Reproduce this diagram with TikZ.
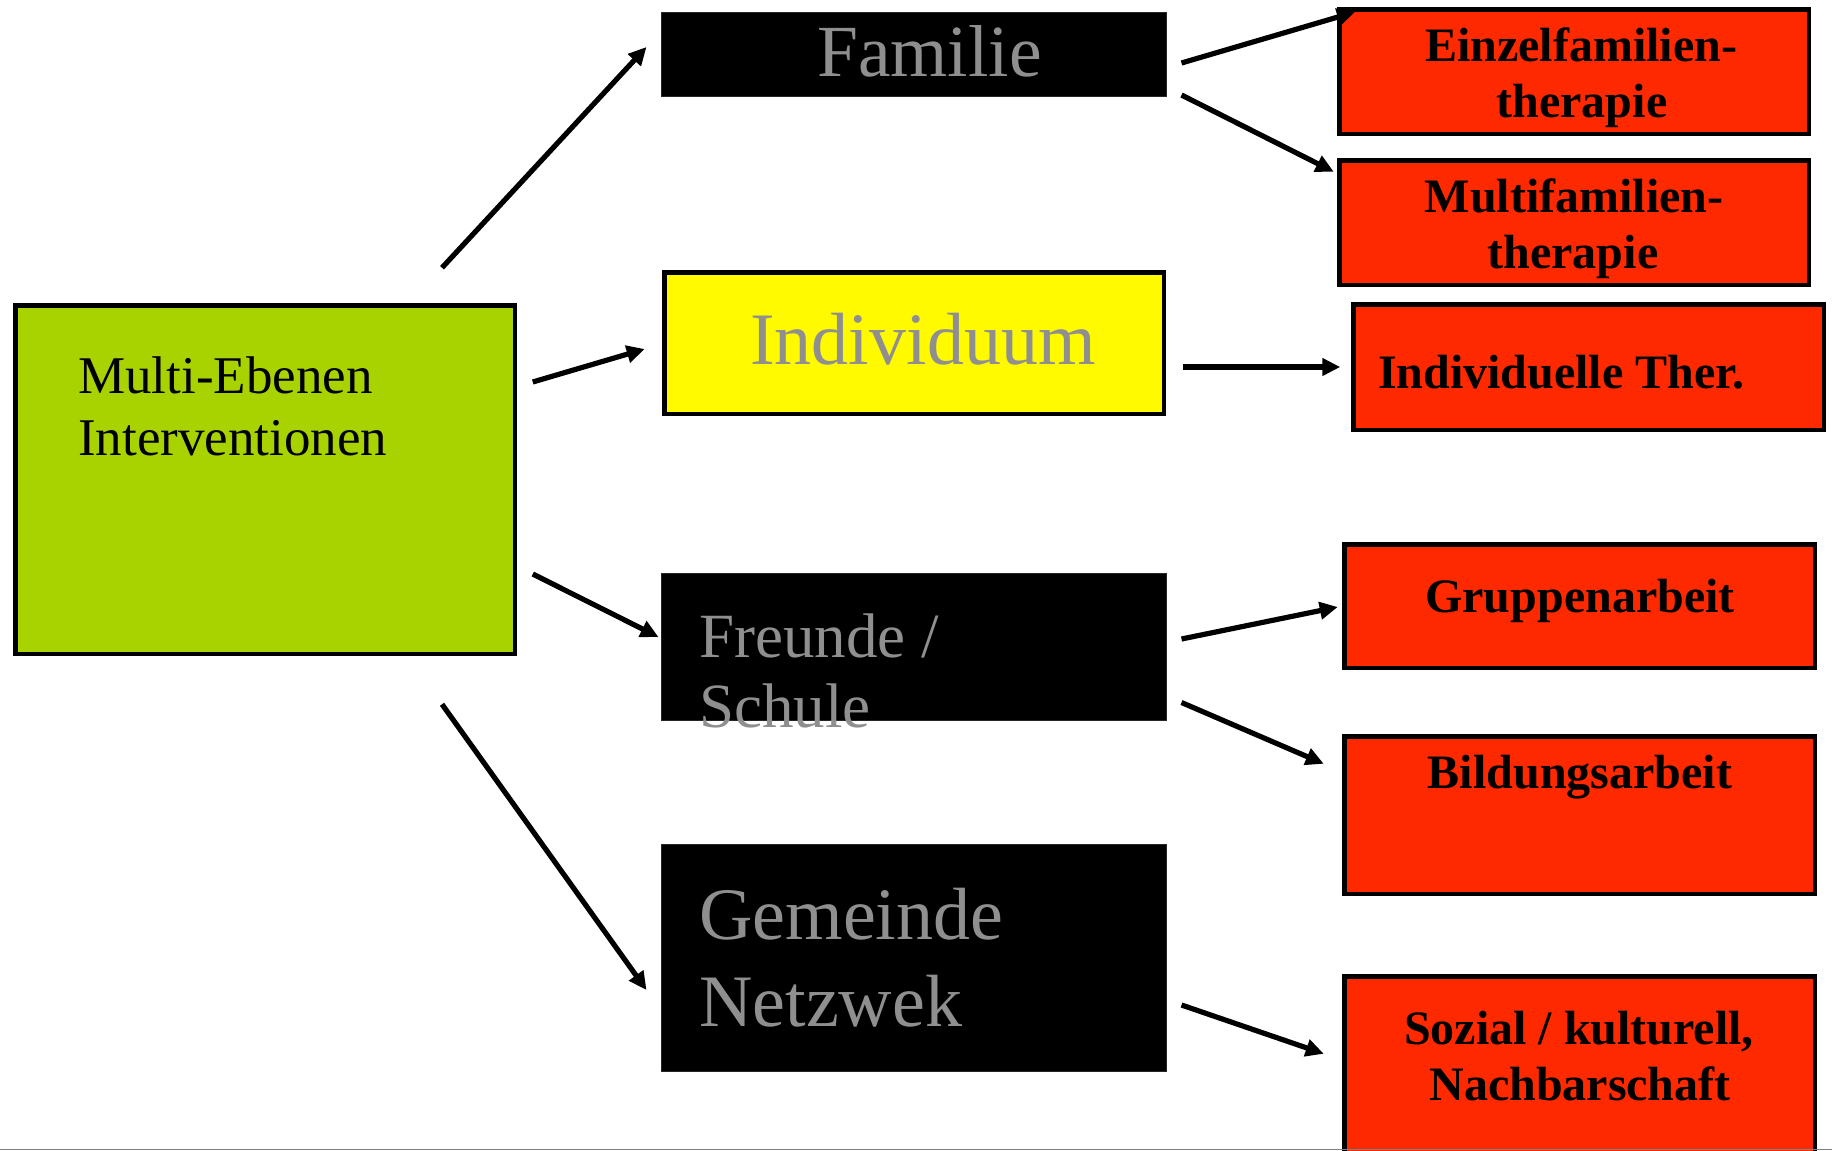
\documentclass[tikz,border=0pt]{standalone}
\usepackage{fontspec}
\setmainfont{Liberation Serif}
\usetikzlibrary{arrows.meta}

\definecolor{levelgreen}{RGB}{168,211,0}
\definecolor{levelyellow}{RGB}{255,250,0}
\definecolor{therapyred}{RGB}{255,41,0}
\definecolor{labelgray}{RGB}{143,143,143}

\begin{document}
\begin{tikzpicture}[x=1pt,y=-1pt,
  framed/.style={draw=black, line width=4.5pt, inner sep=0pt},
  greenbox/.style={framed, fill=levelgreen},
  yellowbox/.style={framed, fill=levelyellow},
  redbox/.style={framed, fill=therapyred},
  blackbox/.style={fill=black, draw=black!85, line width=1pt, inner sep=0pt},
  dims/.style 2 args={minimum width=#1pt, minimum height=#2pt},
  roottext/.style={font=\fontsize{53}{61}\selectfont, inner sep=0pt, anchor=base west},
  leveltext/.style={font=\fontsize{#1}{#1}\selectfont, text=labelgray, inner sep=0pt},
  actiontext/.style={font=\fontsize{48}{56}\selectfont\bfseries, inner sep=0pt, anchor=base},
  arrow/.style={line width=5.2pt, -{Triangle[length=18pt,width=17pt]}},
]
\useasboundingbox (0,0) rectangle (1832,1151);
\clip (0,0) rectangle (1832,1151);

% root box
\node[greenbox, dims={499.5}{348.5}] (root) at (265,479.5) {};
\node[roottext] (rootA) at (78,393) {Multi-Ebenen};
\node[roottext] (rootB) at (78,455) {Interventionen};

% levels
\node[blackbox, dims={505}{84}] (fam) at (914,54.5) {};
\node[leveltext=73.5, anchor=base] (famT) at (929.5,76) {Familie};

\node[yellowbox, dims={499.5}{141.5}] (ind) at (914,343) {};
\node[leveltext=74, anchor=base] (indT) at (923,364) {Individuum};

\node[blackbox, dims={505}{147}] (fre) at (914,647) {};
\node[leveltext=63, anchor=base west] (freA) at (699,657) {Freunde /};
\node[leveltext=63, anchor=base west] (freB) at (699,727.5) {Schule};

\node[blackbox, dims={505}{227}] (gem) at (914,958) {};
\node[leveltext=74, anchor=base west] (gemA) at (699,939) {Gemeinde};
\node[leveltext=74, anchor=base west] (gemB) at (699,1026) {Netzwek};

% interventions
\node[redbox, dims={469.5}{124.5}] (r1) at (1574,71.5) {};
\node[actiontext] (r1A) at (1581,61) {Einzelfamilien-};
\node[actiontext] (r1B) at (1582,117) {therapie};

\node[redbox, dims={469.5}{124.5}] (r2) at (1574,222.5) {};
\node[actiontext] (r2A) at (1574,212) {Multifamilien-};
\node[actiontext] (r2B) at (1573,268) {therapie};

\node[redbox, dims={470.5}{125.5}] (r3) at (1588.5,367) {};
\node[actiontext, anchor=base west] (r3A) at (1378,388) {Individuelle Ther.};

\node[redbox, dims={470.5}{123.5}] (r4) at (1579.5,606) {};
\node[actiontext] (r4A) at (1580,612.5) {Gruppenarbeit};

\node[redbox, dims={470.5}{157.5}] (r5) at (1579.5,815) {};
\node[actiontext] (r5A) at (1580,788) {Bildungsarbeit};

\node[redbox, dims={470.5}{196.5}] (r6) at (1579.5,1074.5) {};
\node[actiontext] (r6A) at (1579,1044) {Sozial / kulturell,};
\node[actiontext] (r6B) at (1580,1100) {Nachbarschaft};

% connectors
\draw[arrow] ([shift={(177,-35.25)}]root.north) -- ([shift={(-14.5,-7.5)}]fam.west);
\draw[arrow] ([shift={(15.75,-97.5)}]root.east) -- ([shift={(-17.25,6)}]ind.west);
\draw[arrow] ([shift={(15.75,94.5)}]root.east) -- ([shift={(-2.5,-10)}]fre.west);
\draw[arrow] ([shift={(177,48.25)}]root.south) -- ([shift={(-14.5,32)}]gem.west);

\draw[arrow] ([shift={(14.5,8.5)}]fam.east) -- ([shift={(18,5)}]r1.north west);
\draw[arrow] ([shift={(14.5,40.5)}]fam.east) -- ([shift={(-3.25,13.75)}]r2.north west);
\draw[arrow] ([shift={(17.25,24)}]ind.east) -- ([shift={(-10.75,0)}]r3.west);
\draw[arrow] ([shift={(14.5,-8)}]fre.east) -- ([shift={(-4.25,1)}]r4.west);
\draw[arrow] ([shift={(14.5,55.5)}]fre.east) -- ([shift={(-18.25,29.75)}]r5.north west);
\draw[arrow] ([shift={(14.5,47)}]gem.east) -- ([shift={(-18.25,79.75)}]r6.north west);

% rule along the lower edge
\draw[black!50, line width=1.5pt] (0,1149.5) -- (1832,1149.5);
\end{tikzpicture}
\end{document}
